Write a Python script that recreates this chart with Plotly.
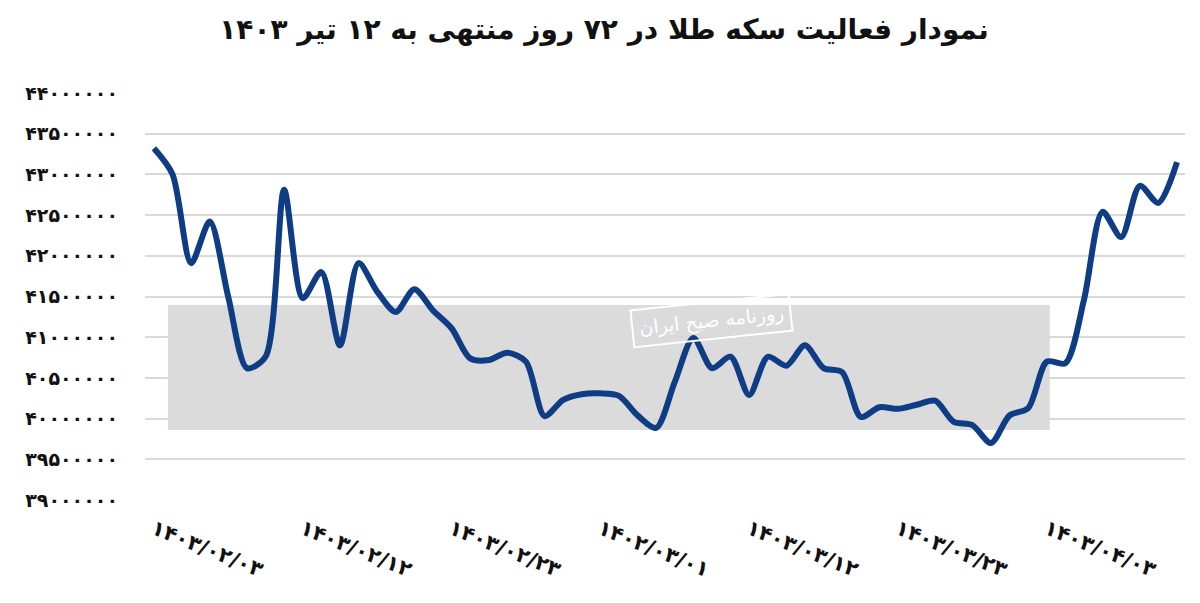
import plotly.graph_objects as go

# ---- data ----
values = [
    43.32, 43.00, 41.91, 42.42, 41.49, 40.62, 40.76, 42.81, 41.48, 41.80,
    40.90, 41.91, 41.56, 41.31, 41.59, 41.33, 41.11, 40.74, 40.72, 40.81,
    40.70, 40.03, 40.23, 40.30, 40.31, 40.28, 40.04, 39.885, 40.45, 40.99,
    40.62, 40.76, 40.29, 40.76, 40.65, 40.90, 40.62, 40.57, 40.02, 40.14,
    40.12, 40.17, 40.22, 39.96, 39.92, 39.70, 40.04, 40.13, 40.70, 40.68,
    41.46, 42.54, 42.23, 42.86, 42.65, 43.15,
]
values = [v * 1_000_000 for v in values]
idx = list(range(len(values)))

x_tick_pos = [0, 8, 16, 24, 32, 40, 48]
x_tick_labels = ["۱۴۰۳/۰۲/۰۳", "۱۴۰۳/۰۲/۱۲", "۱۴۰۳/۰۲/۲۳", "۱۴۰۲/۰۳/۰۱",
                 "۱۴۰۳/۰۳/۱۲", "۱۴۰۳/۰۳/۲۳", "۱۴۰۳/۰۴/۰۳"]

y_tick_vals = [39000000 + 500000 * i for i in range(11)]
y_tick_labels = ["۳۹۰۰۰۰۰۰", "۳۹۵۰۰۰۰۰", "۴۰۰۰۰۰۰۰", "۴۰۵۰۰۰۰۰", "۴۱۰۰۰۰۰۰",
                 "۴۱۵۰۰۰۰۰", "۴۲۰۰۰۰۰۰", "۴۲۵۰۰۰۰۰", "۴۳۰۰۰۰۰۰", "۴۳۵۰۰۰۰۰",
                 "۴۴۰۰۰۰۰۰"]

title_text = "نمودار فعالیت سکه طلا در ۷۲ روز منتهی به ۱۲ تیر ۱۴۰۳"
watermark_small = "روزنامه صبح ایران"

FONT = "DejaVu Sans"

fig = go.Figure()
fig.add_trace(go.Scatter(
    x=idx, y=values, mode="lines",
    line=dict(color="#0e3d86", width=6, shape="spline", smoothing=0.8),
    hoverinfo="skip", showlegend=False,
))

fig.update_layout(
    width=1192, height=595,
    margin=dict(l=137, r=15, t=85, b=103),
    paper_bgcolor="white", plot_bgcolor="white",
    title=dict(text="<b>" + title_text + "</b>", x=0.5, xanchor="center",
               y=0.965, yanchor="middle",
               font=dict(family=FONT, size=28, color="#111111")),
    xaxis=dict(range=[-0.48, 55.43], showgrid=False, zeroline=False,
               showline=False, ticks="",
               tickmode="array", tickvals=x_tick_pos, ticktext=x_tick_labels,
               tickangle=22, ticklabelstandoff=12,
               tickfont=dict(family=FONT, size=21, color="#111111", weight="bold")),
    yaxis=dict(range=[39000000, 44000000], showgrid=True, gridcolor="#d9d9d9",
               gridwidth=1.5, zeroline=False, showline=False, ticks="",
               tickmode="array", tickvals=y_tick_vals, ticktext=y_tick_labels,
               ticklabelstandoff=26,
               tickfont=dict(family=FONT, size=19, color="#111111", weight="bold")),
    shapes=[dict(type="rect", xref="paper", yref="paper",
                 x0=0.022, x1=0.870, y0=0.172, y1=0.479,
                 fillcolor="rgba(200,200,200,0.65)", line=dict(width=0),
                 layer="below")],
    annotations=[
        dict(text=watermark_small, xref="paper", yref="paper", x=0.545, y=0.44,
             showarrow=False, textangle=-6, bordercolor="white", borderwidth=2,
             borderpad=6,
             font=dict(family=FONT, size=19, color="white")),
    ],
)

fig.write_html("out.html")
